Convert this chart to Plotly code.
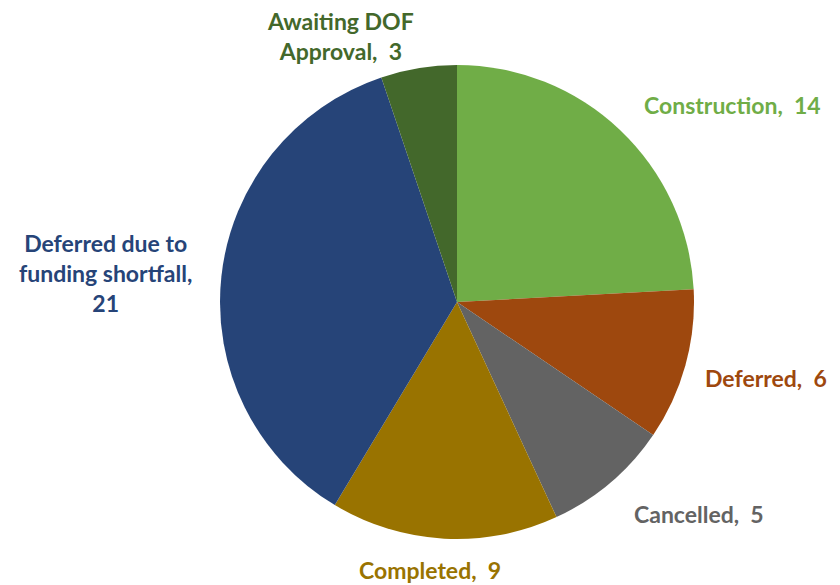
import plotly.graph_objects as go

categories = ["Construction", "Deferred", "Cancelled", "Completed",
              "Deferred due to funding shortfall", "Awaiting DOF Approval"]
values = [14, 6, 5, 9, 21, 3]
colors = ["#70AD47", "#9E480E", "#636363", "#997300", "#264478", "#43682B"]

# label text with the line breaks used in the original
label_text = ["Construction,  14", "Deferred,  6", "Cancelled,  5", "Completed,  9",
              "Deferred due to<br>funding shortfall,<br>21", "Awaiting DOF<br>Approval,  3"]
label_pos = [(732, 105), (766, 378), (699, 514), (430, 570), (105, 273), (340, 36)]

W, H = 840, 585
off = 8  # html body margin shifts the figure by 8px
cx, cy, r = 457 - off, 302 - off, 237

fig = go.Figure(go.Pie(
    labels=categories,
    values=values,
    marker=dict(colors=colors, line=dict(width=0)),
    sort=False,
    direction="clockwise",
    rotation=0,
    textinfo="none",
    hoverinfo="label+value",
    showlegend=False,
    domain=dict(x=[(cx - r) / W, (cx + r) / W], y=[(H - cy - r) / H, (H - cy + r) / H]),
))

for txt, (x, y), c in zip(label_text, label_pos, colors):
    fig.add_annotation(
        x=(x - off) / W, y=1 - (y - off) / H, xref="paper", yref="paper",
        text="<b>" + txt + "</b>", showarrow=False,
        font=dict(family="Lato, Open Sans, sans-serif", size=23, color=c),
        align="center", xanchor="center", yanchor="middle",
    )

fig.update_layout(
    width=W, height=H,
    margin=dict(l=0, r=0, t=0, b=0),
    paper_bgcolor="white",
    plot_bgcolor="white",
)

fig.write_html("out.html")
